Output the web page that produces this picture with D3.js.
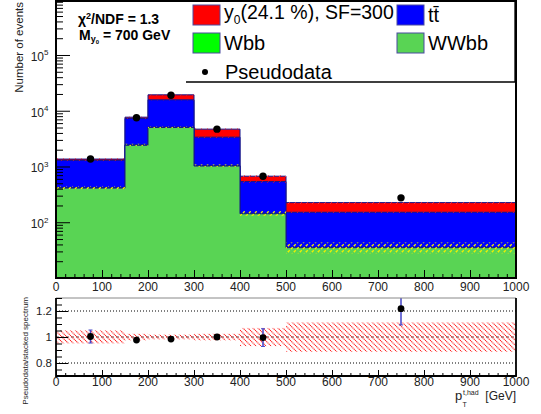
<!DOCTYPE html>
<html><head><meta charset="utf-8">
<script src="https://cdn.jsdelivr.net/npm/d3@7"></script>
<style>body{margin:0;background:#fff} svg{display:block} text{font-family:"Liberation Sans",Arial,Helvetica,sans-serif}</style>
</head><body><svg id="c" width="541" height="414"></svg>
<script>
// ---------- data ----------
const binEdges   = [0, 150, 200, 300, 400, 500, 1000];
const wwbb       = [410, 2400, 5000, 1020, 142, 35];
const wbb        = [8, 43, 80, 18, 3, 0.5];
const ttbar      = [872, 4807, 10620, 2322, 391, 115.5];
const signalSF   = [70, 420, 3600, 1320, 134, 74];
const pseudodata = [1365, 7490, 18990, 4680, 667, 274];
const ratioErr   = [0.05, 0.012, 0.01, 0.015, 0.068, 0.125];
const bandErr    = [0.05, 0.025, 0.018, 0.025, 0.07, 0.113];
const hatchGreenErr = [0.07, 0.045, 0.035, 0.05, 0.1, 0.22];
const hatchTtErr    = [0.03, 0.02, 0.02, 0.03, 0.05, 0.06];
const hatchTotErr   = [0.03, 0.02, 0.02, 0.03, 0.05, 0.06];
const xTickLabels = [0,100,200,300,400,500,600,700,800,900,1000];
const yDecades    = [100, 1000, 10000, 100000];
const yDecadeExp  = ["2","3","4","5"];
const ratioTickLabels = [0.8, 1, 1.2];
const legendNames = ["y0(24.1 %), SF=300", "tt\u0304", "Wbb", "WWbb", "Pseudodata"];

// ---------- layout ----------
const svg = d3.select('#c');
const X0 = 56, X1 = 516, MT = 1, MB = 278, RT = 298, RB = 376;
const x  = d3.scaleLinear().domain([0, 1000]).range([X0, X1]);
const y  = d3.scaleLog().domain([10, 9.3e5]).range([MB, MT]);
const yr = d3.scaleLinear().domain([0.7, 1.3]).range([RB, RT]);

const defs = svg.append('defs');
defs.append('clipPath').attr('id','clipMain').append('rect')
  .attr('x',X0).attr('y',MT).attr('width',X1-X0).attr('height',MB-MT);
defs.append('clipPath').attr('id','clipRatio').append('rect')
  .attr('x',X0).attr('y',RT).attr('width',X1-X0).attr('height',RB-RT);
function fwdPattern(id, color, sw){
  const p = defs.append('pattern').attr('id',id).attr('patternUnits','userSpaceOnUse')
    .attr('width',6).attr('height',6);
  p.append('path').attr('d','M0,6 L6,0 M-1,1 L1,-1 M5,7 L7,5')
    .attr('stroke',color).attr('stroke-width',sw).attr('stroke-dasharray','2.5,1.7');
}
fwdPattern('hY', '#f0f000', 1.3);
fwdPattern('hTt', '#c01040', 1.0);
fwdPattern('hTot', '#ff3030', 1.0);
const pr = defs.append('pattern').attr('id','hR').attr('patternUnits','userSpaceOnUse')
  .attr('width',5).attr('height',5);
pr.append('path').attr('d','M0,0 L5,5 M-1,4 L1,6 M4,-1 L6,1')
  .attr('stroke','#ff1010').attr('stroke-width',1.1).attr('stroke-dasharray','1.2,0.6');

// ---------- stacks ----------
const cum0 = wwbb;
const cum1 = cum0.map((v,i)=>v+wbb[i]);
const cum2 = cum1.map((v,i)=>v+ttbar[i]);
const cum3 = cum2.map((v,i)=>v+signalSF[i]);
const centers = binEdges.slice(0,-1).map((e,i)=>(e+binEdges[i+1])/2);
const ratio = pseudodata.map((d,i)=>d/cum3[i]);
const bins = d3.range(binEdges.length-1);

const gMain = svg.append('g').attr('clip-path','url(#clipMain)');
const layers = [
  {vals:cum3, fill:'#ff0000'},
  {vals:cum2, fill:'#0000ff'},
  {vals:cum1, fill:'#00ff00'},
  {vals:cum0, fill:'#59d454'}
];
const area = d3.area().x(d=>x(d[0])).y0(y(10)).y1(d=>y(d[1]));
const line = d3.line().x(d=>x(d[0])).y(d=>y(d[1]));
layers.forEach(L=>{
  const pts = [];
  L.vals.forEach((v,i)=>{pts.push([binEdges[i],v]); pts.push([binEdges[i+1],v]);});
  gMain.append('path').attr('d',area(pts)).attr('fill',L.fill);
  gMain.append('path').attr('d',line([[0,10],...pts,[1000,10]]))
    .attr('fill','none').attr('stroke','#15158a').attr('stroke-width',1);
});
function band(vals, errs, pat){
  gMain.append('g').selectAll('rect').data(bins).join('rect')
    .attr('x',i=>x(binEdges[i])).attr('width',i=>x(binEdges[i+1])-x(binEdges[i]))
    .attr('y',i=>y(vals[i]*(1+errs[i])))
    .attr('height',i=>y(vals[i]*(1-errs[i]))-y(vals[i]*(1+errs[i])))
    .attr('fill','url(#'+pat+')');
}
band(cum1, hatchGreenErr, 'hY');
band(cum2, hatchTtErr, 'hTt');
band(cum3, hatchTotErr, 'hTot');

// data points
gMain.append('g').selectAll('circle').data(bins).join('circle')
  .attr('cx',i=>x(centers[i])).attr('cy',i=>y(pseudodata[i])).attr('r',3.7).attr('fill','#000');

// ---------- legend ----------
const lg = svg.append('g');
lg.append('rect').attr('x',186).attr('y',1).attr('width',329).attr('height',81).attr('fill','#fff');
lg.append('path').attr('d','M186,82 H515 V1').attr('fill','none').attr('stroke','#000').attr('stroke-width',1.3);
const legItems = [
  {name:legendNames[0], fill:'#ff0000', sx:193, cy:15},
  {name:legendNames[1], fill:'#0000ff', sx:397, cy:15},
  {name:legendNames[2], fill:'#00ff00', sx:193, cy:43},
  {name:legendNames[3], fill:'#59d454', sx:397, cy:43}
];
lg.selectAll('rect.sw').data(legItems).join('rect').attr('class','sw')
  .attr('x',d=>d.sx).attr('y',d=>d.cy-10).attr('width',27).attr('height',20)
  .attr('fill',d=>d.fill).attr('stroke','#4a4aa0').attr('stroke-width',1);
lg.selectAll('text.lt').data(legItems.slice(1)).join('text').attr('class','lt')
  .attr('x',d=>d.sx+31).attr('y',d=>d.cy+7).attr('font-size',20).attr('fill','#000')
  .text(d=>d.name);
const t0 = lg.append('text').attr('x',224).attr('y',19).attr('font-size',19.5).attr('fill','#000');
t0.append('tspan').text('y');
t0.append('tspan').attr('font-size',12).attr('dy',5).text('0');
t0.append('tspan').attr('dy',-5).text('(24.1 %), SF=300');
lg.append('circle').attr('cx',205).attr('cy',72).attr('r',3).attr('fill','#000');
lg.append('text').attr('x',225).attr('y',79).attr('font-size',20).attr('fill','#000').text(legendNames[4]);

// chi2 text
const c1 = svg.append('text').attr('x',78).attr('y',23.5).attr('font-size',14).attr('font-weight','bold');
c1.append('tspan').text('\u03c7');
c1.append('tspan').attr('font-size',9).attr('dy',-5).text('2');
c1.append('tspan').attr('dy',5).text('/NDF = 1.3');
const c2 = svg.append('text').attr('x',79).attr('y',39.5).attr('font-size',14).attr('font-weight','bold');
c2.append('tspan').text('M');
c2.append('tspan').attr('font-size',9).attr('dy',2).text('y');
c2.append('tspan').attr('font-size',6).attr('dy',2.5).text('0');
c2.append('tspan').attr('dy',-4.5).text(' = 700 GeV');

// ---------- main frame & axes ----------
svg.append('rect').attr('x',X0).attr('y',MT).attr('width',X1-X0).attr('height',MB-MT)
  .attr('fill','none').attr('stroke','#000').attr('stroke-width',2);
const yMinor = [];
[10,100,1000,10000,100000].forEach(d=>{for(let m=2;m<=9;m++){ if(m*d<9.3e5) yMinor.push(m*d);} });
function styleAxis(g){ g.select('.domain').remove(); g.selectAll('line').attr('stroke','#000').attr('stroke-width',1); g.selectAll('text').remove(); }
svg.append('g').attr('transform',`translate(${X0},0)`).call(d3.axisLeft(y).tickValues(yMinor).tickSize(-7)).call(styleAxis);
svg.append('g').attr('transform',`translate(${X0},0)`).call(d3.axisLeft(y).tickValues(yDecades).tickSize(-14)).call(styleAxis);
const xMinor = d3.range(0,1001,20);
svg.append('g').attr('transform',`translate(0,${MB})`).call(d3.axisBottom(x).tickValues(xMinor).tickSize(-4)).call(styleAxis);
svg.append('g').attr('transform',`translate(0,${MB})`).call(d3.axisBottom(x).tickValues(xTickLabels).tickSize(-8)).call(styleAxis);

const yl = svg.append('g').selectAll('text').data(yDecades).join('text')
  .attr('x',48.5).attr('y',d=>y(d)+6).attr('text-anchor','end').attr('font-size',12).attr('fill','#222');
yl.append('tspan').text('10');
yl.append('tspan').attr('font-size',8).attr('dy',-5.5).text((d,i)=>yDecadeExp[i]);
svg.append('g').selectAll('text').data(xTickLabels).join('text')
  .attr('x',d=>x(d)).attr('y',290.5).attr('text-anchor','middle').attr('font-size',12).attr('fill','#222').text(d=>d);
svg.append('text').attr('transform','translate(23,2) rotate(-90)').attr('text-anchor','end')
  .attr('font-size',11.5).attr('fill','#222').text('Number of events');

// ---------- ratio panel ----------
const gR = svg.append('g').attr('clip-path','url(#clipRatio)');
[0.8,1.2].forEach(v=>gR.append('line').attr('x1',X0).attr('x2',X1).attr('y1',yr(v)).attr('y2',yr(v))
  .attr('stroke','#000').attr('stroke-width',1).attr('stroke-dasharray','1,2'));
gR.append('line').attr('x1',X0).attr('x2',X1).attr('y1',yr(1)).attr('y2',yr(1))
  .attr('stroke','#555').attr('stroke-width',1).attr('stroke-dasharray','3,2');
gR.append('g').selectAll('rect').data(bins).join('rect')
  .attr('x',i=>x(binEdges[i])).attr('width',i=>x(binEdges[i+1])-x(binEdges[i]))
  .attr('y',i=>yr(1+bandErr[i])).attr('height',i=>yr(1-bandErr[i])-yr(1+bandErr[i]))
  .attr('fill','url(#hR)');
const eb = gR.append('g').selectAll('g').data(bins).join('g');
eb.append('line').attr('x1',i=>x(centers[i])).attr('x2',i=>x(centers[i]))
  .attr('y1',i=>yr(ratio[i]+ratioErr[i])).attr('y2',i=>yr(ratio[i]-ratioErr[i]))
  .attr('stroke','#4545c8').attr('stroke-width',1.5);
[1,-1].forEach(s=>eb.append('line').attr('x1',i=>x(centers[i])-2).attr('x2',i=>x(centers[i])+2)
  .attr('y1',i=>yr(ratio[i]+s*ratioErr[i])).attr('y2',i=>yr(ratio[i]+s*ratioErr[i]))
  .attr('stroke','#4545c8').attr('stroke-width',1));
eb.append('circle').attr('cx',i=>x(centers[i])).attr('cy',i=>yr(ratio[i])).attr('r',3.4).attr('fill','#000');

svg.append('path').attr('d',`M${X0},${RT} H${X1}`).attr('stroke','#888').attr('stroke-width',1).attr('fill','none');
svg.append('path').attr('d',`M${X0},${RT} V${RB} H${X1} V${RT}`).attr('stroke','#000').attr('stroke-width',1.8).attr('fill','none');
const rMinor = d3.range(0.7,1.3001,0.05).map(v=>+v.toFixed(2));
svg.append('g').attr('transform',`translate(${X0},0)`).call(d3.axisLeft(yr).tickValues(rMinor).tickSize(-6)).call(styleAxis);
svg.append('g').attr('transform',`translate(${X0},0)`).call(d3.axisLeft(yr).tickValues(ratioTickLabels).tickSize(-12)).call(styleAxis);
svg.append('g').attr('transform',`translate(0,${RB})`).call(d3.axisBottom(x).tickValues(xMinor).tickSize(-3)).call(styleAxis);
svg.append('g').attr('transform',`translate(0,${RB})`).call(d3.axisBottom(x).tickValues(xTickLabels).tickSize(-6)).call(styleAxis);
svg.append('g').selectAll('text').data(ratioTickLabels).join('text')
  .attr('x',52).attr('y',d=>yr(d)+4).attr('text-anchor','end').attr('font-size',11.5).attr('fill','#222').text(d=>d);
svg.append('g').selectAll('text').data(xTickLabels).join('text')
  .attr('x',d=>x(d)).attr('y',386).attr('text-anchor','middle').attr('font-size',12).attr('fill','#222').text(d=>d);
svg.append('text').attr('transform','translate(27.5,297) rotate(-90)').attr('text-anchor','end')
  .attr('font-size',8).attr('fill','#222').text('Pseudodata/stacked spectrum');
svg.append('text').attr('x',455).attr('y',400).attr('font-size',13).attr('fill','#222').text('p');
svg.append('text').attr('x',463).attr('y',394.5).attr('font-size',7).attr('fill','#222').text('t,had');
svg.append('text').attr('x',462.5).attr('y',407).attr('font-size',7).attr('fill','#222').text('T');
svg.append('text').attr('x',516).attr('y',399.5).attr('text-anchor','end').attr('font-size',12).attr('fill','#222').text('[GeV]');
</script></body></html>
